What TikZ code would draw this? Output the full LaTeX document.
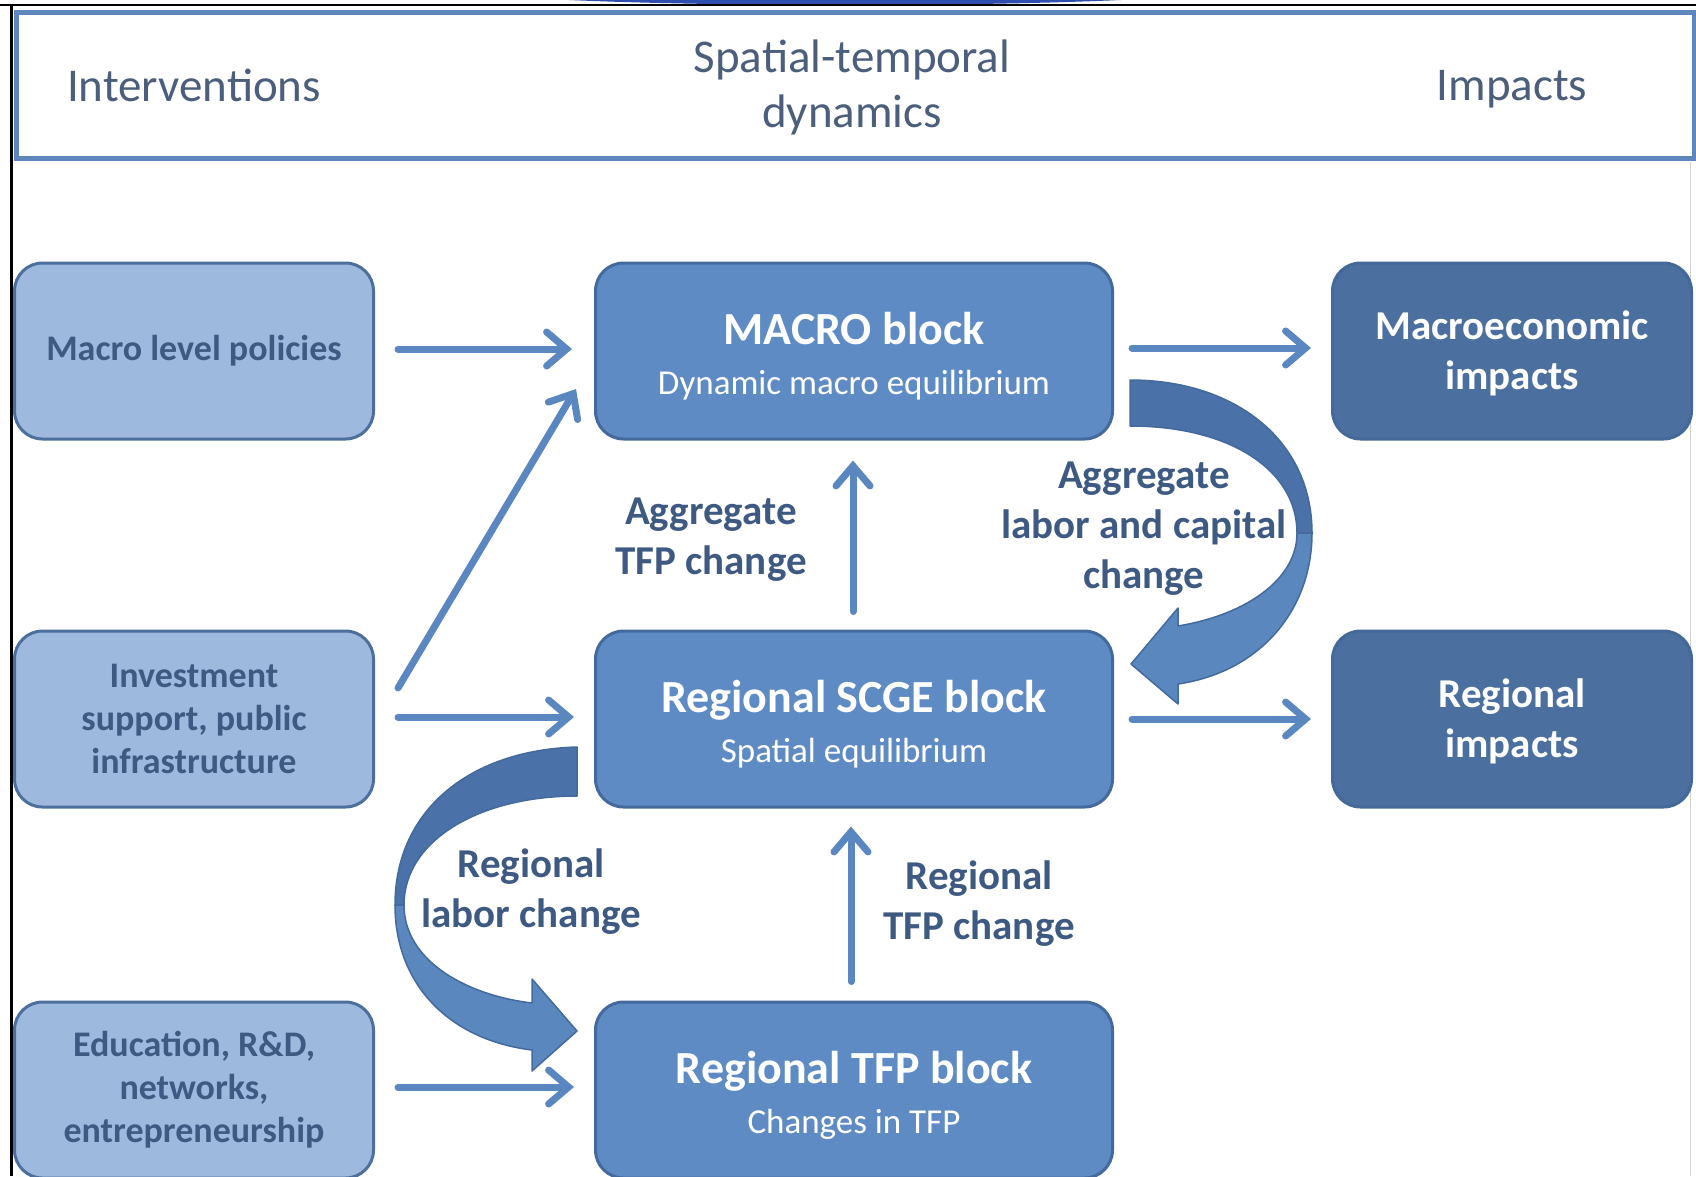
\documentclass[tikz,border=0pt]{standalone}
\usepackage{fontspec}
\setmainfont{Carlito}
\usetikzlibrary{arrows.meta,calc}
\definecolor{lightbox}{HTML}{9DB9DD}
\definecolor{lightedge}{HTML}{4D6F9E}
\definecolor{midbox}{HTML}{5F8BC4}
\definecolor{midedge}{HTML}{44699D}
\definecolor{darkbox}{HTML}{4B6F9F}
\definecolor{darkedge}{HTML}{45689A}
\definecolor{arrowc}{HTML}{5B87C1}
\definecolor{curvedark}{HTML}{4A72A8}
\definecolor{curvelight}{HTML}{5B87BF}
\definecolor{txtdark}{HTML}{3E5A82}
\definecolor{headtxt}{HTML}{4B5F7D}
\definecolor{headedge}{HTML}{5E86BC}
\definecolor{topblue}{HTML}{2F4FB0}
\tikzset{
  inbox/.style={draw=lightedge, fill=lightbox, line width=3pt, rounded corners=28pt,
    minimum width=359pt, minimum height=176pt, inner sep=0pt, align=center,
    text=txtdark, font=\fontsize{36}{43}\selectfont\bfseries},
  blockbox/.style={draw=midedge, fill=midbox, line width=3pt, rounded corners=28pt,
    minimum width=517pt, minimum height=176pt, inner sep=0pt, align=center,
    text=white, font=\fontsize{35}{50}\selectfont},
  outbox/.style={draw=darkedge, fill=darkbox, line width=3pt, rounded corners=28pt,
    minimum width=359pt, minimum height=176pt, inner sep=0pt, align=center,
    text=white, font=\fontsize{41}{50}\selectfont\bfseries},
  headtext/.style={text=headtxt, align=center, font=\fontsize{47}{55}\selectfont},
  flowlabel/.style={text=txtdark, align=center, font=\fontsize{41}{50}\selectfont\bfseries},
  flow/.style={draw=arrowc, line width=7pt, line cap=round,
    -{Straight Barb[length=20pt,width=34pt,line cap=round]}},
  fatback/.style={fill=curvedark, draw=midedge, line width=1.5pt, line join=round},
  fatfront/.style={fill=curvelight, draw=midedge, line width=1.5pt, line join=round},
}
\newcommand{\titlefont}{\fontsize{46}{50}\selectfont\bfseries}
\newcommand{\highstrut}{\rule{0pt}{34pt}}
\newcommand{\titlestrut}{\rule{0pt}{42pt}}
\begin{document}
\begin{tikzpicture}[x=1pt,y=-1pt]
\useasboundingbox (0,0) rectangle (1696,1176);
\clip (0,0) rectangle (1696,1176);
\fill[white] (0,0) rectangle (1696,1176);
% top decoration and frame lines
\fill[topblue] (845,-10) ellipse [x radius=370, y radius=15];
\draw[black, line width=2.5pt] (0,5) -- (1696,5);
\draw[black, line width=3pt] (11.5,5) -- (11.5,1176);
\draw[gray!35, line width=1pt] (1690,162) -- (1690,1176);
% header
\draw[headedge, line width=5pt] (16,12) rectangle (1694,158);
\node[headtext] (hint) at (194,85) {Interventions};
\node[headtext] (hdyn) at (852,87) {Spatial-temporal\\dynamics};
\node[headtext] (himp) at (1512,89) {Impacts};
% left column
\node[inbox] (mpol) at (194,351) {Macro level policies};
\node[inbox] (inv) at (194,719) {Investment\\support, public\\infrastructure};
\node[inbox] (edu) at (194,1090) {Education, R\&D,\\networks,\\entrepreneurship};
% middle column
\node[blockbox] (macro) at (854,351) {{\titlefont\titlestrut MACRO block}\\Dynamic macro equilibrium};
\node[blockbox] (scge) at (854,719) {{\titlefont\titlestrut Regional SCGE block}\\Spatial equilibrium};
\node[blockbox] (tfp) at (854,1090) {{\titlefont\titlestrut Regional TFP block}\\Changes in TFP};
% right column
\node[outbox] (mimp) at (1512,351) {\highstrut Macroeconomic\\impacts};
\node[outbox] (rimp) at (1512,719) {\highstrut Regional\\impacts};
% straight connectors
\draw[flow] ($(mpol.east)+(23,-2)$) -- ($(macro.west)+(-22,-2)$);
\draw[flow] ($(inv.east)+(23,-31)$) -- ($(macro.west)+(-18,38)$);
\draw[flow] ($(inv.east)+(23,-2)$) -- ($(scge.west)+(-20,-2)$);
\draw[flow] ($(edu.east)+(23,-3)$) -- ($(tfp.west)+(-20,-3)$);
\draw[flow] ($(macro.east)+(18,-3)$) -- ($(mimp.west)+(-20,-3)$);
\draw[flow] ($(scge.east)+(18,0)$) -- ($(rimp.west)+(-20,0)$);
\draw[flow] ($(scge.north)+(-1,-18)$) -- ($(macro.south)+(-1,20)$);
\draw[flow] ($(tfp.north)+(-3,-19)$) -- ($(scge.south)+(-3,18)$);
% curved connector MACRO -> SCGE
\path[fatback] (1130,380) .. controls (1235,380) and (1312,440) .. (1312,533)
  -- (1297,533) .. controls (1297,470) and (1230,426) .. (1130,426) -- cycle;
\path[fatfront] (1312,533) .. controls (1312,610) and (1260,672) .. (1178,684)
  -- (1178,704) -- (1131,664) -- (1178,608) -- (1178,626)
  .. controls (1245,615) and (1297,580) .. (1297,533) -- cycle;
% curved connector SCGE -> TFP
\path[fatback] (577,747) .. controls (470,750) and (395,810) .. (395,905)
  -- (404,905) .. controls (404,840) and (480,796) .. (577,796) -- cycle;
\path[fatfront] (395,905) .. controls (395,985) and (450,1040) .. (532,1050)
  -- (532,1071) -- (577,1031) -- (532,979) -- (532,1003)
  .. controls (465,995) and (404,960) .. (404,905) -- cycle;
% labels
\node[flowlabel] (lab1) at (711,540) {Aggregate\\TFP change};
\node[flowlabel] (lab2) at (1144,529) {Aggregate\\labor and capital\\change};
\node[flowlabel] (lab3) at (531,892) {Regional\\labor change};
\node[flowlabel] (lab4) at (979,904) {Regional\\TFP change};
\end{tikzpicture}
\end{document}
